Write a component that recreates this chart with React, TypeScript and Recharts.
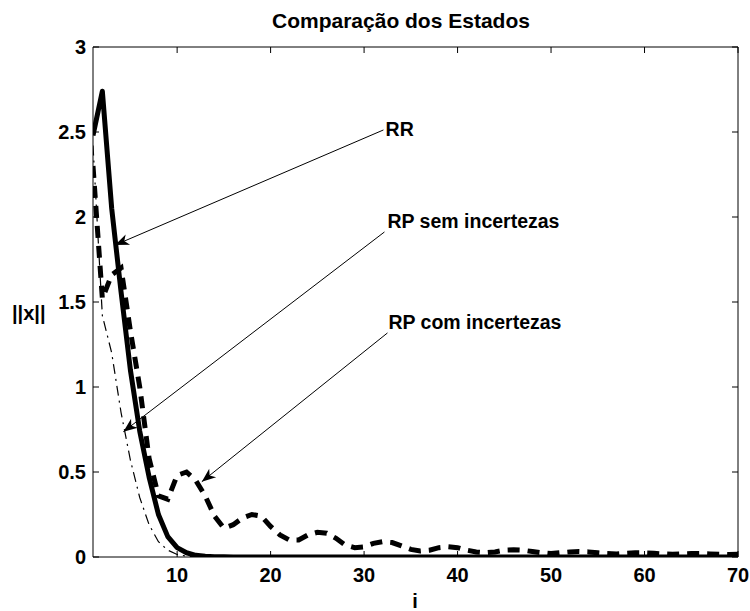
import React from 'react';
import { LineChart, Line, XAxis, YAxis, ReferenceLine, ReferenceDot } from 'recharts';

// passo i = 1..70
const steps = Array.from({ length: 70 }, (_, k) => k + 1);

const rrValues = [
  2.48, 2.74, 2.05, 1.56, 1.1, 0.74, 0.47, 0.25, 0.12, 0.055,
  0.025, 0.01, 0.004, 0.002, 0.001, 0, 0, 0, 0, 0,
  0, 0, 0, 0, 0, 0, 0, 0, 0, 0,
  0, 0, 0, 0, 0, 0, 0, 0, 0, 0,
  0, 0, 0, 0, 0, 0, 0, 0, 0, 0,
  0, 0, 0, 0, 0, 0, 0, 0, 0, 0,
  0, 0, 0, 0, 0, 0, 0, 0, 0, 0,
];

const rpSemValues = [
  2.42, 1.42, 1.2, 0.85, 0.57, 0.35, 0.19, 0.09, 0.04, 0.015,
  0.005, 0.002, 0.001, 0, 0, 0, 0, 0, 0, 0,
  0, 0, 0, 0, 0, 0, 0, 0, 0, 0,
  0, 0, 0, 0, 0, 0, 0, 0, 0, 0,
  0, 0, 0, 0, 0, 0, 0, 0, 0, 0,
  0, 0, 0, 0, 0, 0, 0, 0, 0, 0,
  0, 0, 0, 0, 0, 0, 0, 0, 0, 0,
];

const rpComValues = [
  2.3, 1.52, 1.66, 1.7, 1.33, 1.0, 0.58, 0.36, 0.34, 0.48,
  0.5, 0.45, 0.36, 0.24, 0.17, 0.19, 0.23, 0.25, 0.24, 0.18,
  0.13, 0.1, 0.1, 0.13, 0.145, 0.14, 0.11, 0.07, 0.055, 0.06,
  0.08, 0.09, 0.085, 0.065, 0.045, 0.035, 0.04, 0.055, 0.06, 0.055,
  0.04, 0.03, 0.025, 0.03, 0.04, 0.042, 0.04, 0.032, 0.025, 0.02,
  0.025, 0.03, 0.032, 0.03, 0.025, 0.02, 0.018, 0.022, 0.025, 0.025,
  0.022, 0.018, 0.016, 0.018, 0.02, 0.02, 0.018, 0.016, 0.015, 0.016,
];

const xTicks = [10, 20, 30, 40, 50, 60, 70];
const yTicks = [0, 0.5, 1, 1.5, 2, 2.5, 3];

// texto em (tx, ty), seta de (x1, y1) até a ponta (x2, y2), em coordenadas dos dados
const annotations = [
  { text: 'RR', tx: 32.3, ty: 2.52, x1: 32.07, y1: 2.512, x2: 3.36, y2: 1.835 },
  { text: 'RP sem incertezas', tx: 32.5, ty: 1.979, x1: 32.18, y1: 1.912, x2: 4.25, y2: 0.737 },
  { text: 'RP com incertezas', tx: 32.6, ty: 1.385, x1: 32.5, y1: 1.318, x2: 12.64, y2: 0.443 },
];

const rows = steps.map((i, k) => ({
  i,
  rr: rrValues[k],
  rpSem: rpSemValues[k],
  rpCom: rpComValues[k],
}));

const font = '"Liberation Sans", Arial, Helvetica, sans-serif';
const tickStyle = { fill: '#000', fontSize: 20, fontWeight: 'bold', fontFamily: font };

function Arrow(props: any) {
  const { x1, y1, x2, y2 } = props;
  const ang = Math.atan2(y2 - y1, x2 - x1);
  const pt = (a: number, l: number) => `${x2 - l * Math.cos(a)},${y2 - l * Math.sin(a)}`;
  const head = [`${x2},${y2}`, pt(ang + 0.38, 15), pt(ang, 10), pt(ang - 0.38, 15)].join(' ');
  return (
    <g>
      <line x1={x1} y1={y1} x2={x2} y2={y2} stroke="#000" strokeWidth={1} />
      <polygon points={head} fill="#000" />
    </g>
  );
}

function AnnText(text: string) {
  return (props: any) => (
    <text x={props.cx} y={props.cy} dominantBaseline="central" fontSize={19.5}
          fontWeight="bold" fontFamily={font} fill="#000">
      {text}
    </text>
  );
}

export default function App() {
  return (
    <div style={{ position: 'absolute', left: 0, top: 0, background: '#fff' }}>
      <LineChart width={750} height={611} data={rows}
                 margin={{ top: 46, right: 11, bottom: 24, left: 33 }}>
        <XAxis dataKey="i" type="number" domain={[1, 70]} ticks={xTicks} allowDataOverflow
               height={30} tickSize={-6} tickMargin={17} tick={tickStyle}
               axisLine={{ stroke: '#000' }} tickLine={{ stroke: '#000' }} />
        <XAxis xAxisId="top" orientation="top" dataKey="i" type="number" domain={[1, 70]}
               ticks={xTicks} allowDataOverflow height={1} tickSize={-6} tickFormatter={() => ''}
               axisLine={{ stroke: '#000' }} tickLine={{ stroke: '#000' }} />
        <YAxis type="number" domain={[0, 3]} ticks={yTicks} allowDataOverflow width={60}
               tickSize={-6} tickMargin={13} tick={tickStyle}
               axisLine={{ stroke: '#000' }} tickLine={{ stroke: '#000' }} />
        <YAxis yAxisId="right" orientation="right" type="number" domain={[0, 3]} ticks={yTicks}
               allowDataOverflow width={1} tickSize={-6} tickFormatter={() => ''}
               axisLine={{ stroke: '#000' }} tickLine={{ stroke: '#000' }} />

        <Line dataKey="rpSem" type="linear" stroke="#000" strokeWidth={1.2}
              strokeDasharray="10 5 2 5" dot={false} activeDot={false} isAnimationActive={false} />
        <Line dataKey="rpCom" type="linear" stroke="#000" strokeWidth={5}
              strokeDasharray="12 8" dot={false} activeDot={false} isAnimationActive={false} />
        <Line dataKey="rr" type="linear" stroke="#000" strokeWidth={5} strokeLinejoin="round"
              dot={false} activeDot={false} isAnimationActive={false} />

        {annotations.map(a => (
          <ReferenceLine key={a.text + '-arrow'} segment={[{ x: a.x1, y: a.y1 }, { x: a.x2, y: a.y2 }]}
                         shape={Arrow} ifOverflow="visible" />
        ))}
        {annotations.map(a => (
          <ReferenceDot key={a.text + '-text'} x={a.tx} y={a.ty} r={0}
                        shape={AnnText(a.text)} ifOverflow="visible" />
        ))}

        <text x={272} y={28} textAnchor="start" fontSize={21} fontWeight="bold"
              fontFamily={font} fill="#000">Comparação dos Estados</text>
        <text x={415} y={608} textAnchor="middle" fontSize={20} fontWeight="bold"
              fontFamily={font} fill="#000">i</text>
        <text x={12} y={320} textAnchor="start" fontSize={20} fontWeight="bold"
              fontFamily={font} fill="#000">||x||</text>
      </LineChart>
    </div>
  );
}
